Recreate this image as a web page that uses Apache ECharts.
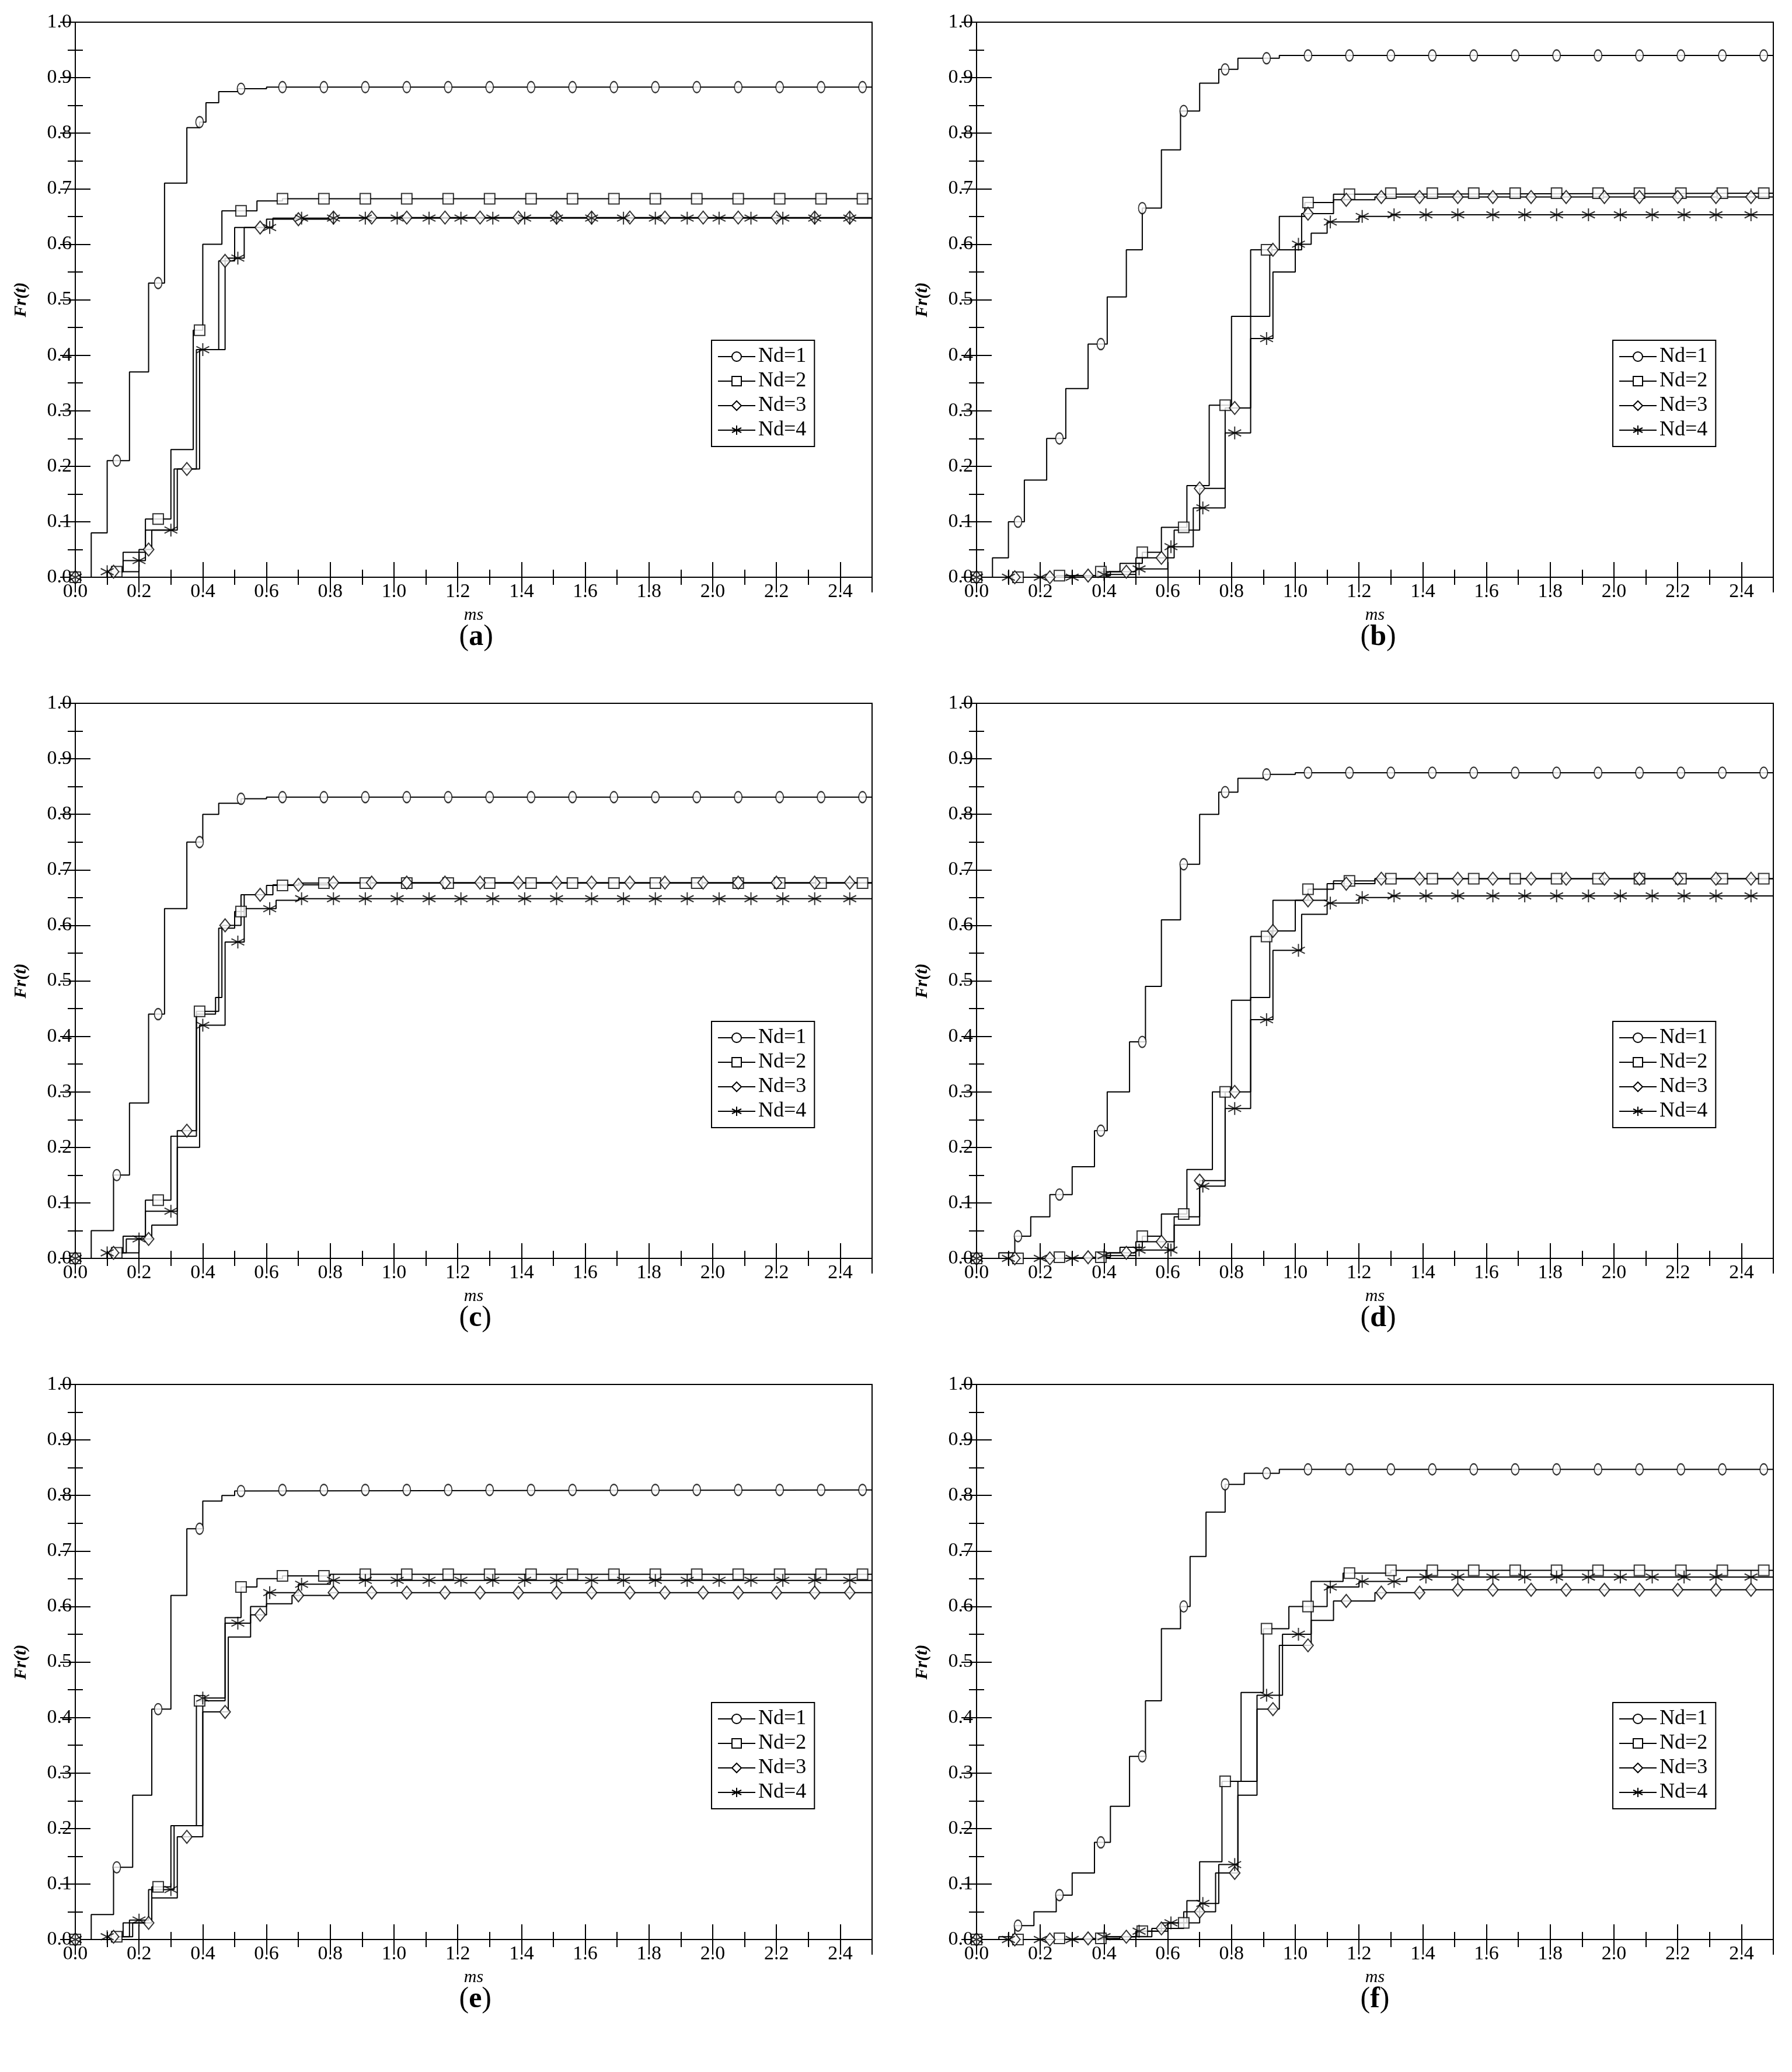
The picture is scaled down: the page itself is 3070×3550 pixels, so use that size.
<!DOCTYPE html>
<html>
<head>
<meta charset="utf-8">
<script src="https://cdn.jsdelivr.net/npm/echarts@6/dist/echarts.min.js"></script>
<style>html,body{margin:0;padding:0;background:#fff}#chart{width:3070px;height:3550px}</style>
</head>
<body>
<div id="chart"></div>
<script>
// step points [t (ms), Fr(t)] : value jumps to Fr at t
const seriesNames = ['Nd=1', 'Nd=2', 'Nd=3', 'Nd=4'];
const panelLabels = ['a', 'b', 'c', 'd', 'e', 'f'];

const stepsA = [
  [[0,0],[0.05,0.08],[0.1,0.21],[0.17,0.37],[0.23,0.53],[0.28,0.71],[0.35,0.81],[0.39,0.82],[0.41,0.855],[0.45,0.875],[0.51,0.88],[0.6,0.883]],
  [[0,0],[0.1,0.01],[0.15,0.045],[0.22,0.105],[0.3,0.23],[0.37,0.445],[0.4,0.6],[0.46,0.66],[0.57,0.678],[0.65,0.682]],
  [[0,0],[0.12,0.01],[0.2,0.05],[0.24,0.085],[0.32,0.195],[0.38,0.41],[0.45,0.57],[0.5,0.63],[0.6,0.645],[0.8,0.648]],
  [[0,0],[0.1,0.01],[0.15,0.03],[0.22,0.085],[0.31,0.195],[0.39,0.41],[0.47,0.575],[0.53,0.63],[0.62,0.647]]
];
const stepsB = [
  [[0,0],[0.05,0.035],[0.1,0.1],[0.15,0.175],[0.22,0.25],[0.28,0.34],[0.35,0.42],[0.41,0.505],[0.47,0.59],[0.52,0.665],[0.58,0.77],[0.64,0.84],[0.7,0.89],[0.76,0.915],[0.82,0.935],[0.95,0.94]],
  [[0,0],[0.25,0.003],[0.38,0.01],[0.45,0.025],[0.52,0.045],[0.58,0.09],[0.66,0.165],[0.73,0.31],[0.8,0.47],[0.86,0.59],[0.95,0.65],[1.03,0.675],[1.12,0.69],[1.25,0.692]],
  [[0,0],[0.3,0.003],[0.42,0.01],[0.5,0.035],[0.62,0.085],[0.7,0.16],[0.78,0.305],[0.86,0.47],[0.92,0.59],[1.02,0.655],[1.12,0.68],[1.25,0.685]],
  [[0,0],[0.4,0.005],[0.5,0.015],[0.6,0.055],[0.68,0.125],[0.78,0.26],[0.86,0.43],[0.93,0.55],[1.0,0.6],[1.05,0.62],[1.1,0.64],[1.2,0.65],[1.3,0.653]]
];
const stepsC = [
  [[0,0],[0.05,0.05],[0.12,0.15],[0.17,0.28],[0.23,0.44],[0.28,0.63],[0.35,0.75],[0.4,0.8],[0.45,0.82],[0.52,0.828],[0.6,0.831]],
  [[0,0],[0.1,0.01],[0.15,0.04],[0.22,0.105],[0.3,0.22],[0.38,0.445],[0.45,0.595],[0.5,0.625],[0.53,0.655],[0.6,0.672],[0.7,0.676]],
  [[0,0],[0.12,0.01],[0.2,0.035],[0.24,0.06],[0.32,0.23],[0.38,0.44],[0.44,0.47],[0.46,0.6],[0.52,0.655],[0.62,0.673],[0.8,0.677]],
  [[0,0],[0.1,0.01],[0.16,0.035],[0.22,0.085],[0.32,0.2],[0.39,0.42],[0.47,0.57],[0.53,0.63],[0.63,0.645],[0.7,0.648]]
];
const stepsD = [
  [[0,0],[0.07,0.01],[0.12,0.04],[0.17,0.075],[0.23,0.115],[0.3,0.165],[0.37,0.23],[0.41,0.3],[0.48,0.39],[0.53,0.49],[0.58,0.61],[0.64,0.71],[0.7,0.8],[0.76,0.84],[0.82,0.865],[0.9,0.872],[1.0,0.875]],
  [[0,0],[0.25,0.002],[0.4,0.01],[0.45,0.02],[0.52,0.04],[0.58,0.08],[0.66,0.16],[0.74,0.3],[0.8,0.465],[0.86,0.58],[0.93,0.645],[1.04,0.665],[1.12,0.68],[1.25,0.684]],
  [[0,0],[0.3,0.002],[0.42,0.01],[0.5,0.03],[0.62,0.075],[0.7,0.14],[0.78,0.3],[0.86,0.47],[0.92,0.59],[1.0,0.645],[1.1,0.675],[1.25,0.684]],
  [[0,0],[0.4,0.005],[0.5,0.015],[0.62,0.06],[0.7,0.13],[0.78,0.27],[0.86,0.43],[0.93,0.555],[1.02,0.62],[1.1,0.64],[1.2,0.65],[1.3,0.653]]
];
const stepsE = [
  [[0,0],[0.05,0.045],[0.12,0.13],[0.18,0.26],[0.24,0.415],[0.3,0.62],[0.35,0.74],[0.4,0.79],[0.46,0.8],[0.5,0.808],[0.56,0.81]],
  [[0,0],[0.1,0.005],[0.15,0.03],[0.24,0.095],[0.3,0.205],[0.38,0.43],[0.47,0.58],[0.52,0.635],[0.57,0.65],[0.65,0.655],[0.8,0.658]],
  [[0,0],[0.12,0.005],[0.18,0.03],[0.24,0.075],[0.32,0.185],[0.4,0.41],[0.48,0.545],[0.55,0.585],[0.6,0.605],[0.68,0.62],[0.8,0.625]],
  [[0,0],[0.1,0.005],[0.17,0.035],[0.23,0.09],[0.31,0.205],[0.4,0.435],[0.47,0.57],[0.55,0.6],[0.6,0.625],[0.7,0.64],[0.8,0.647]]
];
const stepsF = [
  [[0,0],[0.07,0.005],[0.12,0.025],[0.18,0.05],[0.25,0.08],[0.3,0.12],[0.37,0.175],[0.42,0.24],[0.48,0.33],[0.53,0.43],[0.58,0.56],[0.64,0.6],[0.67,0.69],[0.72,0.77],[0.78,0.82],[0.84,0.84],[0.95,0.847]],
  [[0,0],[0.25,0.002],[0.4,0.005],[0.5,0.015],[0.58,0.03],[0.66,0.07],[0.7,0.14],[0.77,0.285],[0.83,0.445],[0.9,0.56],[0.98,0.6],[1.05,0.645],[1.15,0.66],[1.3,0.665]],
  [[0,0],[0.3,0.002],[0.45,0.005],[0.55,0.02],[0.65,0.05],[0.75,0.12],[0.82,0.26],[0.88,0.415],[0.95,0.53],[1.05,0.575],[1.12,0.61],[1.25,0.625],[1.4,0.63]],
  [[0,0],[0.4,0.005],[0.5,0.015],[0.6,0.03],[0.7,0.065],[0.76,0.135],[0.82,0.285],[0.88,0.44],[0.96,0.55],[1.05,0.6],[1.1,0.635],[1.2,0.645],[1.35,0.653]]
];
const panels = [stepsA, stepsB, stepsC, stepsD, stepsE, stepsF];

// marker positions along each curve (ms)
const markerTimes = [
  [0,0.13,0.26,0.39,0.52,0.65,0.78,0.91,1.04,1.17,1.30,1.43,1.56,1.69,1.82,1.95,2.08,2.21,2.34,2.47],
  [0,0.13,0.26,0.39,0.52,0.65,0.78,0.91,1.04,1.17,1.30,1.43,1.56,1.69,1.82,1.95,2.08,2.21,2.34,2.47],
  [0,0.12,0.23,0.35,0.47,0.58,0.70,0.81,0.93,1.04,1.16,1.27,1.39,1.51,1.62,1.74,1.85,1.97,2.08,2.20,2.32,2.43],
  [0,0.1,0.2,0.3,0.4,0.51,0.61,0.71,0.81,0.91,1.01,1.11,1.21,1.31,1.41,1.51,1.62,1.72,1.82,1.92,2.02,2.12,2.22,2.32,2.43]
];

const symbols = [
  'circle', 'rect', 'diamond',
  'path://M0,-10L0,10M-9,-5L9,5M-9,5L9,-5'
];
const symbolSizes = [[13, 19], 18, [18, 22], 22];

const font = 'Liberation Serif';
const colX = [129, 1673];
const rowY = [38, 1205, 2372];
const gw = 1365, gh = 951;

const grids = [], xAxes = [], yAxes = [], series = [], legends = [], graphics = [];

panels.forEach((steps, p) => {
  const left = colX[p % 2], top = rowY[Math.floor(p / 2)];
  grids.push({ left: left, top: top, width: gw, height: gh, show: true, borderColor: '#000', borderWidth: 2 });
  const tickCommon = { inside: true, length: 26, lineStyle: { color: '#000', width: 2 } };
  const minorCommon = { show: true, splitNumber: 2, length: 13, lineStyle: { color: '#000', width: 2 } };
  xAxes.push({
    gridIndex: p, type: 'value', min: 0, max: 2.5, interval: 0.2,
    name: 'ms', nameLocation: 'middle', nameGap: 50,
    nameTextStyle: { fontFamily: font, fontStyle: 'italic', fontSize: 30, color: '#000' },
    axisLine: { lineStyle: { color: '#000', width: 2 } },
    axisTick: tickCommon, minorTick: minorCommon,
    axisLabel: { fontFamily: font, fontSize: 34, color: '#000', margin: 8, showMaxLabel: false, formatter: v => v.toFixed(1) },
    splitLine: { show: false }
  });
  xAxes.push({
    gridIndex: p, type: 'value', position: 'top', min: 0, max: 2.5, interval: 0.2,
    axisLine: { show: false }, axisTick: tickCommon, minorTick: minorCommon,
    axisLabel: { show: false }, splitLine: { show: false }
  });
  yAxes.push({
    gridIndex: p, type: 'value', min: 0, max: 1, interval: 0.1,
    name: 'Fr(t)', nameLocation: 'middle', nameGap: 78,
    nameTextStyle: { fontFamily: font, fontStyle: 'italic', fontWeight: 'bold', fontSize: 30, color: '#000' },
    axisLine: { lineStyle: { color: '#000', width: 2 } },
    axisTick: tickCommon, minorTick: minorCommon,
    axisLabel: { fontFamily: font, fontSize: 34, color: '#000', margin: 6, formatter: v => v.toFixed(1) },
    splitLine: { show: false }
  });
  yAxes.push({
    gridIndex: p, type: 'value', position: 'right', min: 0, max: 1, interval: 0.1,
    axisLine: { show: false }, axisTick: tickCommon, minorTick: minorCommon,
    axisLabel: { show: false }, splitLine: { show: false }
  });

  steps.forEach((pts, s) => {
    const last = pts[pts.length - 1];
    const full = pts.concat([[2.5, last[1]]]);
    const valueAt = t => { let v = 0; full.forEach(q => { if (q[0] <= t) v = q[1]; }); return v; };
    series.push({
      name: seriesNames[s], type: 'line', step: 'end',
      xAxisIndex: p * 2, yAxisIndex: p * 2,
      showSymbol: false, symbol: symbols[s], symbolSize: symbolSizes[s],
      itemStyle: { color: '#fff', borderColor: '#000', borderWidth: 2 },
      lineStyle: { color: '#000', width: 2 },
      data: full, z: 2, silent: true, animation: false
    });
    series.push({
      name: seriesNames[s], type: 'scatter',
      xAxisIndex: p * 2, yAxisIndex: p * 2,
      symbol: symbols[s], symbolSize: symbolSizes[s],
      itemStyle: { color: '#fff', borderColor: '#000', borderWidth: 2 },
      data: markerTimes[s].map(t => [t, valueAt(t)]), z: 3, silent: true, animation: false
    });
  });

  legends.push({
    data: seriesNames.map(n => ({ name: n })),
    orient: 'vertical', left: left + 1090, top: top + 545,
    padding: [10, 14, 10, 10], itemGap: 6, itemWidth: 64, itemHeight: 20,
    borderColor: '#000', borderWidth: 2, backgroundColor: '#fff',
    textStyle: { fontFamily: font, fontSize: 36, color: '#000', padding: [0, 0, 0, 0] },
    selectedMode: false
  });

  graphics.push({
    type: 'text', left: left + gw / 2 - 25, top: top + gh + 78,
    style: {
      text: '({b|' + panelLabels[p] + '})',
      font: '50px "Liberation Serif"', fill: '#000',
      rich: { b: { fontFamily: font, fontSize: 50, fontWeight: 'bold', fill: '#000' } }
    }
  });
});

const myChart = echarts.init(document.getElementById('chart'));
myChart.setOption({
  backgroundColor: '#fff',
  animation: false,
  grid: grids, xAxis: xAxes, yAxis: yAxes,
  legend: legends, series: series, graphic: graphics
});
</script>
</body>
</html>
